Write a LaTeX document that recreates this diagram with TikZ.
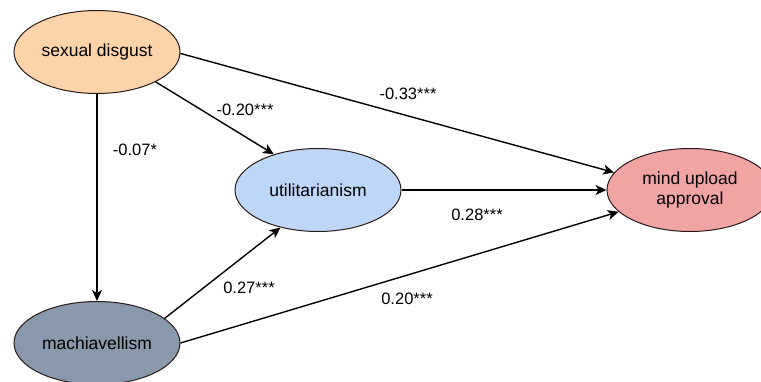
\documentclass[tikz,border=0pt]{standalone}
\usepackage{fontspec}
\setmainfont{Liberation Sans}
\usetikzlibrary{shapes.geometric,arrows.meta}
\definecolor{peach}{HTML}{FDD3A9}
\definecolor{lblue}{HTML}{BED6F7}
\definecolor{pink}{HTML}{F0A5A4}
\definecolor{slate}{HTML}{8799AB}
\definecolor{rim}{HTML}{2A1A1A}
\tikzset{
  var/.style={ellipse, draw=rim, line width=1pt, minimum width=166pt, minimum height=83pt, inner sep=0pt, align=center, font=\fontsize{17.5}{20}\selectfont},
  conn/.style={line width=1.4pt, -{Stealth[length=11pt,width=10pt,inset=3pt]}},
  coef/.style={font=\fontsize{16.5}{19}\selectfont, inner sep=0pt}
}
\begin{document}
\begin{tikzpicture}[x=1pt,y=-1pt]
\clip (0,0) rectangle (761,382);
\useasboundingbox (0,0) rectangle (761,382);
\fill[white] (0,0) rectangle (761,382);
\node[var, fill=peach] (sd) at (97,52) {sexual disgust};
\node[var, fill=lblue] (ut) at (318,190) {utilitarianism};
\node[var, fill=pink] (mu) at (690,190) {mind upload\\approval};
\node[var, fill=slate] (ma) at (97,343) {machiavellism};
\draw[conn] (sd.south) -- (ma.north);
\draw[conn] (sd.-27) -- (ut.141);
\draw[conn] (sd.-1) -- (mu.167);
\draw[conn] (ut.east) -- (mu.west);
\draw[conn] (ma.20) -- (ut.225);
\draw[conn] (ma.east) -- (mu.197);
\node[coef] (l1) at (135,150) {-0.07*};
\node[coef] (l2) at (245,110) {-0.20***};
\node[coef] (l3) at (408,94) {-0.33***};
\node[coef] (l4) at (477,215) {0.28***};
\node[coef] (l5) at (249,288) {0.27***};
\node[coef] (l6) at (407,299) {0.20***};
\end{tikzpicture}
\end{document}
